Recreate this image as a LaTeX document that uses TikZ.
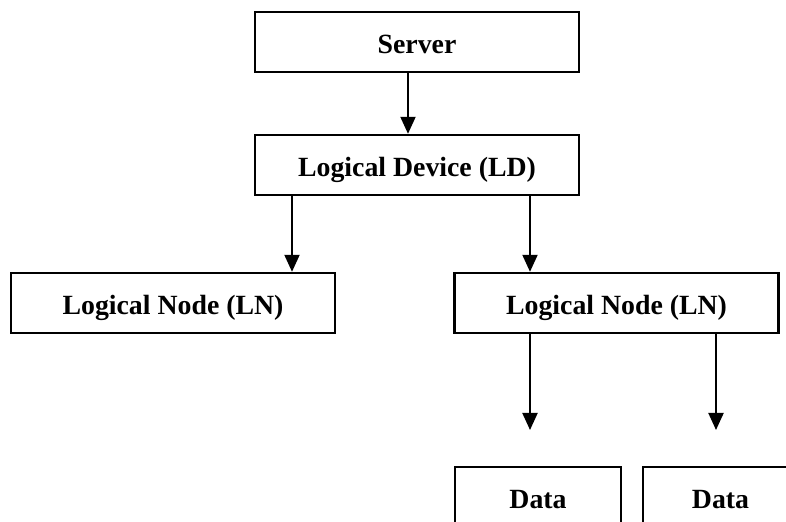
\documentclass[tikz,border=0pt]{standalone}
\usepackage{fontspec}
\setmainfont{Liberation Serif}
\usetikzlibrary{arrows.meta,positioning}

\begin{document}
\begin{tikzpicture}[x=0.5pt,y=-0.5pt]
\tikzset{box/.style={draw=black,line width=1.2pt,minimum width=162pt,minimum height=30pt,inner sep=0pt,text height=12pt,text depth=0pt,font=\fontsize{13.9}{16}\selectfont\bfseries},
  link/.style={line width=1pt,-{Triangle[length=8.5pt,width=7.5pt]}}}
\clip (0,0) rectangle (786,522);
\node[box] (srv) at (417,42) {Server};
\node[box] (ld) at (417,165) {Logical Device (LD)};
\node[box] (lnl) at (173,303) {Logical Node (LN)};
\node[box] (lnr) at (616.5,303) {Logical Node (LN)};
\node[box,minimum width=83pt] (dl) at (538,497) {Data};
\node[box,minimum width=77.5pt] (dr) at (720.5,497) {Data};
% free ends above the data boxes
\coordinate (el) at (530,430);
\coordinate (er) at (716,430);
\draw[link] (srv.south -| 408,0) -- (ld.north -| 408,0);
\draw[link] (ld.south -| 292,0) -- (lnl.north -| 292,0);
\draw[link] (ld.south -| 530,0) -- (lnr.north -| 530,0);
\draw[link] (lnr.south -| el) -- (el);
\draw[link] (lnr.south -| er) -- (er);
\end{tikzpicture}
\end{document}
